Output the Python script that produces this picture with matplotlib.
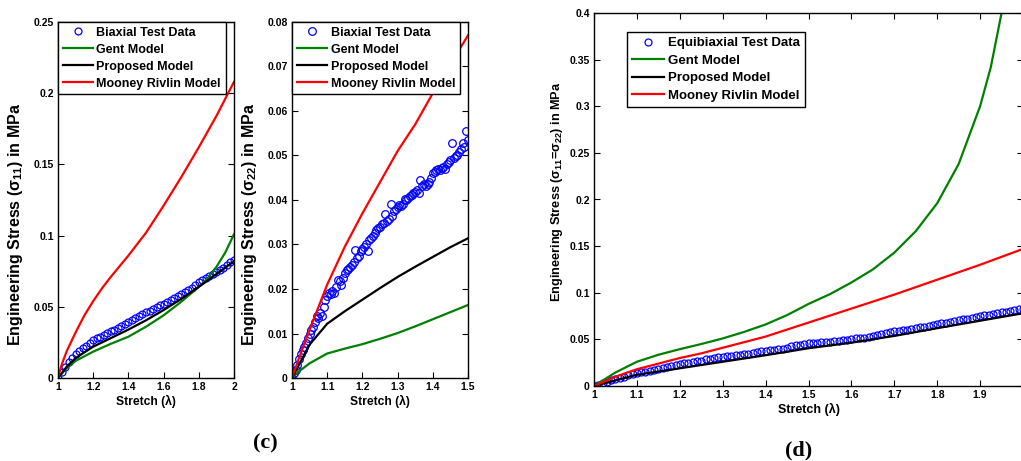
import numpy as np
from matplotlib import pyplot as plt
from matplotlib.ticker import FormatStrFormatter

plt.rcParams['font.family'] = ['Liberation Sans', 'DejaVu Sans']
plt.rcParams['font.weight'] = 'bold'
plt.rcParams['mathtext.default'] = 'regular'

# ---- panel (c) left: sigma 11 ----
c1_test_x = [1.00, 1.02, 1.04, 1.06, 1.08, 1.10, 1.12, 1.14, 1.16, 1.18, 1.20, 1.22, 1.24,
             1.26, 1.28, 1.30, 1.32, 1.34, 1.36, 1.38, 1.40, 1.42, 1.44, 1.46, 1.48, 1.50,
             1.52, 1.54, 1.56, 1.58, 1.60, 1.62, 1.64, 1.66, 1.68, 1.70, 1.72, 1.74, 1.76,
             1.78, 1.80, 1.82, 1.84, 1.86, 1.88, 1.90, 1.92, 1.94, 1.96, 1.98, 2.00]
c1_test_y = [0.0000, 0.0040, 0.0080, 0.0110, 0.0140, 0.0170, 0.0190, 0.0210, 0.0225, 0.0245,
             0.0265, 0.0278, 0.0290, 0.0305, 0.0318, 0.0330, 0.0340, 0.0352, 0.0365, 0.0380,
             0.0395, 0.0405, 0.0418, 0.0435, 0.0448, 0.0460, 0.0470, 0.0482, 0.0498, 0.0510,
             0.0520, 0.0535, 0.0548, 0.0560, 0.0575, 0.0590, 0.0605, 0.0620, 0.0635, 0.0655,
             0.0675, 0.0688, 0.0700, 0.0715, 0.0730, 0.0745, 0.0760, 0.0775, 0.0795, 0.0812,
             0.0830]
c1_gent_x = [1.0, 1.05, 1.1, 1.2, 1.3, 1.4, 1.5, 1.6, 1.7, 1.8, 1.85, 1.9, 1.95, 2.0]
c1_gent_y = [0.0, 0.007, 0.012, 0.0185, 0.024, 0.029, 0.036, 0.044, 0.0535, 0.064, 0.070,
             0.078, 0.088, 0.101]
c1_prop_x = [1.0, 1.05, 1.1, 1.2, 1.3, 1.4, 1.5, 1.6, 1.7, 1.8, 1.9, 2.0]
c1_prop_y = [0.0, 0.008, 0.014, 0.022, 0.028, 0.034, 0.0405, 0.0477, 0.0555, 0.064, 0.073, 0.082]
c1_mr_x = [1.0, 1.02, 1.05, 1.1, 1.15, 1.2, 1.25, 1.3, 1.4, 1.5, 1.6, 1.7, 1.8, 1.9, 2.0]
c1_mr_y = [0.0, 0.009, 0.019, 0.032, 0.044, 0.054, 0.063, 0.071, 0.086, 0.102, 0.121, 0.141,
           0.162, 0.184, 0.208]

# ---- panel (c) right: sigma 22 ----
c2_test_x = [1.000, 1.005, 1.010, 1.015, 1.020, 1.025, 1.030, 1.035, 1.040, 1.045, 1.050,
             1.055, 1.060, 1.065, 1.070, 1.075, 1.080, 1.085, 1.090, 1.095, 1.100, 1.105,
             1.110, 1.115, 1.120, 1.125, 1.130, 1.135, 1.140, 1.145, 1.150, 1.155, 1.160,
             1.165, 1.170, 1.175, 1.180, 1.185, 1.190, 1.195, 1.200, 1.205, 1.210, 1.215,
             1.220, 1.225, 1.230, 1.235, 1.240, 1.245, 1.250, 1.255, 1.260, 1.265, 1.270,
             1.275, 1.280, 1.285, 1.290, 1.295, 1.300, 1.305, 1.310, 1.315, 1.320, 1.325,
             1.330, 1.335, 1.340, 1.345, 1.350, 1.355, 1.360, 1.365, 1.370, 1.375, 1.380,
             1.385, 1.390, 1.395, 1.400, 1.405, 1.410, 1.415, 1.420, 1.425, 1.430, 1.435,
             1.440, 1.445, 1.450, 1.455, 1.460, 1.465, 1.470, 1.475, 1.480, 1.485, 1.490,
             1.495, 1.500]
c2_test_y = [0.0000, 0.0012, 0.0018, 0.0030, 0.0042, 0.0055, 0.0062, 0.0070, 0.0078, 0.0090,
             0.0098, 0.0108, 0.0115, 0.0125, 0.0140, 0.0135, 0.0145, 0.0140, 0.0160, 0.0175,
             0.0185, 0.0190, 0.0188, 0.0195, 0.0192, 0.0205, 0.0220, 0.0218, 0.0210, 0.0225,
             0.0236, 0.0242, 0.0245, 0.0250, 0.0255, 0.0260, 0.0288, 0.0270, 0.0275, 0.0285,
             0.0290, 0.0295, 0.0300, 0.0285, 0.0310, 0.0315, 0.0318, 0.0325, 0.0332, 0.0338,
             0.0340, 0.0345, 0.0348, 0.0368, 0.0352, 0.0358, 0.0392, 0.0365, 0.0375, 0.0380,
             0.0385, 0.0388, 0.0386, 0.0392, 0.0402, 0.0400, 0.0405, 0.0408, 0.0412, 0.0415,
             0.0418, 0.0422, 0.0415, 0.0445, 0.0432, 0.0435, 0.0432, 0.0436, 0.0440, 0.0450,
             0.0460, 0.0462, 0.0468, 0.0470, 0.0468, 0.0472, 0.0475, 0.0470, 0.0480, 0.0485,
             0.0490, 0.0528, 0.0495, 0.0498, 0.0500, 0.0508, 0.0515, 0.0528, 0.0520, 0.0555,
             0.0535]
c2_line_x = [1.0, 1.02, 1.05, 1.1, 1.15, 1.2, 1.25, 1.3, 1.35, 1.4, 1.45, 1.5]
c2_gent_y = [0.0, 0.0015, 0.0033, 0.0055, 0.0066, 0.0076, 0.0088, 0.0101, 0.0116, 0.0132,
             0.0148, 0.0164]
c2_prop_y = [0.0, 0.003, 0.0075, 0.0122, 0.015, 0.0176, 0.0202, 0.0227, 0.025, 0.0272,
             0.0294, 0.0314]
c2_mr_y = [0.0, 0.0045, 0.0108, 0.021, 0.0295, 0.037, 0.044, 0.051, 0.057, 0.064, 0.0705,
           0.077]

# ---- panel (d): equibiaxial ----
d_test_x = [1.00, 1.01, 1.02, 1.03, 1.04, 1.05, 1.06, 1.07, 1.08, 1.09, 1.10, 1.11, 1.12,
            1.13, 1.14, 1.15, 1.16, 1.17, 1.18, 1.19, 1.20, 1.21, 1.22, 1.23, 1.24, 1.25,
            1.26, 1.27, 1.28, 1.29, 1.30, 1.31, 1.32, 1.33, 1.34, 1.35, 1.36, 1.37, 1.38,
            1.39, 1.40, 1.41, 1.42, 1.43, 1.44, 1.45, 1.46, 1.47, 1.48, 1.49, 1.50, 1.51,
            1.52, 1.53, 1.54, 1.55, 1.56, 1.57, 1.58, 1.59, 1.60, 1.61, 1.62, 1.63, 1.64,
            1.65, 1.66, 1.67, 1.68, 1.69, 1.70, 1.71, 1.72, 1.73, 1.74, 1.75, 1.76, 1.77,
            1.78, 1.79, 1.80, 1.81, 1.82, 1.83, 1.84, 1.85, 1.86, 1.87, 1.88, 1.89, 1.90,
            1.91, 1.92, 1.93, 1.94, 1.95, 1.96, 1.97, 1.98, 1.99, 2.00]
d_test_y = [0.0000, 0.0015, 0.0030, 0.0045, 0.0060, 0.0075, 0.0090, 0.0100, 0.0115, 0.0125,
            0.0135, 0.0145, 0.0155, 0.0165, 0.0175, 0.0185, 0.0195, 0.0205, 0.0215, 0.0228,
            0.0240, 0.0246, 0.0252, 0.0258, 0.0264, 0.0272, 0.0285, 0.0290, 0.0298, 0.0306,
            0.0314, 0.0318, 0.0322, 0.0328, 0.0334, 0.0340, 0.0348, 0.0355, 0.0362, 0.0370,
            0.0378, 0.0384, 0.0390, 0.0396, 0.0402, 0.0412, 0.0425, 0.0435, 0.0445, 0.0452,
            0.0460, 0.0462, 0.0465, 0.0468, 0.0471, 0.0474, 0.0478, 0.0482, 0.0490, 0.0498,
            0.0503, 0.0510, 0.0515, 0.0520, 0.0528, 0.0535, 0.0545, 0.0562, 0.0566, 0.0575,
            0.0585, 0.0592, 0.0598, 0.0604, 0.0612, 0.0620, 0.0628, 0.0636, 0.0644, 0.0654,
            0.0664, 0.0672, 0.0680, 0.0688, 0.0696, 0.0706, 0.0714, 0.0722, 0.0732, 0.0744,
            0.0755, 0.0760, 0.0766, 0.0772, 0.0782, 0.0790, 0.0798, 0.0806, 0.0814, 0.0822,
            0.0830]
d_gent_x = [1.0, 1.05, 1.1, 1.15, 1.2, 1.25, 1.3, 1.35, 1.4, 1.45, 1.5, 1.55, 1.6, 1.65,
            1.7, 1.75, 1.8, 1.85, 1.9, 1.925, 1.95, 1.96]
d_gent_y = [0.0, 0.0145, 0.026, 0.0335, 0.0395, 0.045, 0.051, 0.058, 0.066, 0.076, 0.088,
            0.0985, 0.111, 0.125, 0.143, 0.166, 0.196, 0.238, 0.300, 0.342, 0.400, 0.43]
d_prop_x = [1.0, 1.05, 1.1, 1.2, 1.3, 1.4, 1.5, 1.6, 1.7, 1.8, 1.9, 2.0]
d_prop_y = [0.0, 0.006, 0.012, 0.019, 0.026, 0.033, 0.0405, 0.0465, 0.0537, 0.062, 0.070,
            0.078]
d_mr_x = [1.0, 1.05, 1.1, 1.15, 1.2, 1.25, 1.3, 1.4, 1.5, 1.6, 1.7, 1.8, 1.9, 2.0]
d_mr_y = [0.0, 0.010, 0.018, 0.024, 0.030, 0.035, 0.041, 0.053, 0.068, 0.083, 0.098, 0.114,
          0.130, 0.147]

W, H = 1021, 461
fig = plt.figure(figsize=(W / 100, H / 100), dpi=100)


def px_axes(left, top, right, bottom):
    return fig.add_axes([left / W, 1 - bottom / H, (right - left) / W, (bottom - top) / H])


def style(ax):
    ax.tick_params(direction='in', top=True, right=True, length=4, width=0.8,
                   labelsize=7.5, pad=3)
    for s in ax.spines.values():
        s.set_linewidth(1.0)
    ax.xaxis.set_major_formatter(FormatStrFormatter('%g'))
    ax.yaxis.set_major_formatter(FormatStrFormatter('%g'))
    for lab in ax.get_xticklabels() + ax.get_yticklabels():
        lab.set_fontweight('bold')


def draw(ax, tx, ty, gx, gy, px, py, mx, my, test_label, fs, anchor, ms, ls):
    ax.plot(tx, ty, 'o', mfc='none', mec='#0000ff', ms=ms, mew=0.9, label=test_label)
    ax.plot(gx, gy, color='#008000', lw=1.6, label='Gent Model')
    ax.plot(px, py, color='black', lw=1.6, label='Proposed Model')
    ax.plot(mx, my, color='#ff0000', lw=1.6, label='Mooney Rivlin Model')
    leg = ax.legend(loc='upper left', bbox_to_anchor=anchor, borderaxespad=0,
                    fancybox=False, framealpha=1, edgecolor='black',
                    handlelength=2.4, handletextpad=0.3, labelspacing=ls,
                    borderpad=0.38, prop={'weight': 'bold', 'size': fs})
    leg.get_frame().set_linewidth(1.0)


ax1 = px_axes(58, 22, 234, 378)
draw(ax1, c1_test_x, c1_test_y, c1_gent_x, c1_gent_y, c1_prop_x, c1_prop_y, c1_mr_x, c1_mr_y,
     'Biaxial Test Data', 9, (0, 1), 5, 0.4)
ax1.set_xlim(1, 2)
ax1.set_ylim(0, 0.25)
ax1.set_xticks([1, 1.2, 1.4, 1.6, 1.8, 2])
ax1.set_yticks([0, 0.05, 0.1, 0.15, 0.2, 0.25])
ax1.set_xlabel('Stretch (λ)', fontsize=8.7, fontweight='bold', labelpad=2)
ax1.set_ylabel('Engineering Stress (σ$_{11}$) in MPa', fontsize=11.5, fontweight='bold')
ax1.yaxis.set_label_coords(-0.185, 0.43)
style(ax1)

ax2 = px_axes(292, 22, 468, 378)
draw(ax2, c2_test_x, c2_test_y, c2_line_x, c2_gent_y, c2_line_x, c2_prop_y, c2_line_x, c2_mr_y,
     'Biaxial Test Data', 9, (0, 1), 5.5, 0.4)
ax2.set_xlim(1, 1.5)
ax2.set_ylim(0, 0.08)
ax2.set_xticks([1, 1.1, 1.2, 1.3, 1.4, 1.5])
ax2.set_yticks([0, 0.01, 0.02, 0.03, 0.04, 0.05, 0.06, 0.07, 0.08])
ax2.set_xlabel('Stretch (λ)', fontsize=8.7, fontweight='bold', labelpad=2)
ax2.set_ylabel('Engineering Stress (σ$_{22}$) in MPa', fontsize=11.5, fontweight='bold')
ax2.yaxis.set_label_coords(-0.185, 0.43)
style(ax2)

ax3 = px_axes(594, 13, 1023, 386)
draw(ax3, d_test_x, d_test_y, d_gent_x, d_gent_y, d_prop_x, d_prop_y, d_mr_x, d_mr_y,
     'Equibiaxial Test Data', 9.5, ((627 - 594) / 429, (386 - 32) / 373), 5, 0.4)
ax3.set_xlim(1, 2)
ax3.set_ylim(0, 0.4)
ax3.set_xticks([1, 1.1, 1.2, 1.3, 1.4, 1.5, 1.6, 1.7, 1.8, 1.9, 2])
ax3.set_yticks([0, 0.05, 0.1, 0.15, 0.2, 0.25, 0.3, 0.35, 0.4])
ax3.set_xlabel('Stretch (λ)', fontsize=9, fontweight='bold', labelpad=2)
ax3.set_ylabel('Engineering Stress (σ$_{11}$=σ$_{22}$) in MPa', fontsize=9.2,
               fontweight='bold')
ax3.yaxis.set_label_coords(-0.068, 0.52)
style(ax3)

fig.text(265 / W, 1 - 443 / H, '(c)', ha='center', va='center', fontsize=16,
         family='Liberation Serif', fontweight='bold')
fig.text(799 / W, 1 - 450 / H, '(d)', ha='center', va='center', fontsize=16,
         family='Liberation Serif', fontweight='bold')

fig.savefig('out.png', dpi=100)
